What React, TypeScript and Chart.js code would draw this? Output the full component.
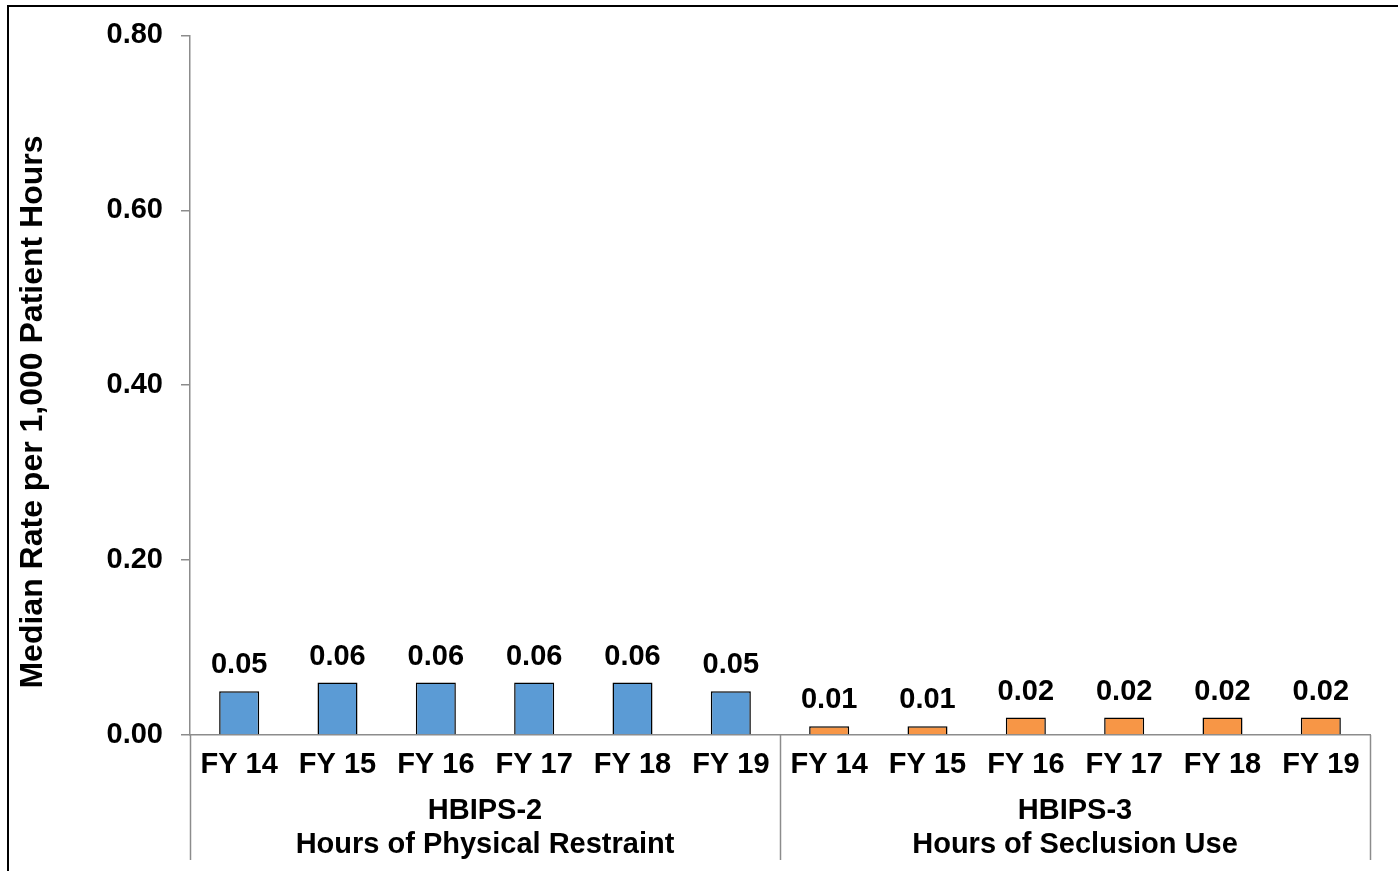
import React, { useEffect, useRef } from "react";
import { Chart, registerables } from "chart.js";

Chart.register(...registerables);

const categories = ["FY 14", "FY 15", "FY 16", "FY 17", "FY 18", "FY 19", "FY 14", "FY 15", "FY 16", "FY 17", "FY 18", "FY 19"];
const values = [0.05, 0.06, 0.06, 0.06, 0.06, 0.05, 0.01, 0.01, 0.02, 0.02, 0.02, 0.02];
const groupLabels = [
  ["HBIPS-2", "Hours of Physical Restraint"],
  ["HBIPS-3", "Hours of Seclusion Use"],
];
const groupSize = 6;
const yTitle = "Median Rate per 1,000 Patient Hours";

const BLUE = "#5B9BD5";
const ORANGE = "#F79646";
const FONT = "'Liberation Sans', Arial, sans-serif";
const AXIS_GRAY = "#8C8C8C";

const overlayPlugin = {
  id: "overlay",
  beforeDraw(chart: any) {
    const ctx = chart.ctx;
    ctx.save();
    ctx.fillStyle = "#ffffff";
    ctx.fillRect(0, 0, chart.width, chart.height);
    ctx.fillStyle = "#000000";
    ctx.fillRect(7, 5, chart.width - 7, 2);
    ctx.fillRect(7, 5, 2, chart.height - 5);
    ctx.restore();
  },
  afterDraw(chart: any) {
    const ctx = chart.ctx;
    const x = chart.scales.x;
    const area = chart.chartArea;
    const meta = chart.getDatasetMeta(0);
    ctx.save();
    // data labels
    ctx.font = `bold 29px ${FONT}`;
    ctx.fillStyle = "#000";
    ctx.textAlign = "center";
    ctx.textBaseline = "alphabetic";
    meta.data.forEach((bar: any, i: number) => {
      ctx.fillText(values[i].toFixed(2), bar.x, bar.y - 18);
    });
    // group separators
    const step = x.getPixelForValue(1) - x.getPixelForValue(0);
    ctx.strokeStyle = AXIS_GRAY;
    ctx.lineWidth = 1.5;
    for (let g = 0; g <= groupLabels.length; g++) {
      const idx = g * groupSize;
      const px = Math.round(x.getPixelForValue(idx) - step / 2) + 0.5;
      ctx.beginPath();
      ctx.moveTo(px, area.bottom);
      ctx.lineTo(px, 860);
      ctx.stroke();
    }
    // group labels
    ctx.fillStyle = "#000";
    groupLabels.forEach((lines, g) => {
      const cx = (x.getPixelForValue(g * groupSize) + x.getPixelForValue(g * groupSize + groupSize - 1)) / 2;
      ctx.fillText(lines[0], cx, 819);
      ctx.fillText(lines[1], cx, 853);
    });
    // y title
    ctx.translate(33, 412);
    ctx.rotate(-Math.PI / 2);
    ctx.font = `bold 32px ${FONT}`;
    ctx.textBaseline = "middle";
    ctx.fillText(yTitle, 0, 0);
    ctx.restore();
  },
};

export default function App() {
  const ref = useRef<HTMLCanvasElement | null>(null);
  useEffect(() => {
    if (!ref.current) return;
    const chart = new Chart(ref.current, {
      type: "bar",
      data: {
        labels: categories,
        datasets: [
          {
            data: values,
            backgroundColor: values.map((_, i) => (i < groupSize ? BLUE : ORANGE)),
            borderColor: "#000000",
            borderWidth: 1.5,
            categoryPercentage: 1,
            barPercentage: 0.407,
          },
        ],
      },
      options: {
        responsive: false,
        animation: false,
        layout: { padding: { left: 0, top: 33, right: 28, bottom: 0 } },
        plugins: {
          legend: { display: false },
          tooltip: { enabled: false },
        },
        scales: {
          x: {
            grid: { display: false },
            border: { display: true, color: AXIS_GRAY, width: 1.5 },
            ticks: {
              color: "#000",
              font: { family: FONT, size: 29, weight: "bold" },
              padding: 5,
              maxRotation: 0,
              autoSkip: false,
            },
            afterFit: (s: any) => {
              s.height = 136;
            },
          },
          y: {
            min: 0,
            max: 0.8,
            grid: { display: true, drawOnChartArea: false, drawTicks: true, tickLength: 9, color: AXIS_GRAY, lineWidth: 1.5 },
            border: { display: true, color: AXIS_GRAY, width: 1.5 },
            ticks: {
              stepSize: 0.2,
              color: "#000",
              font: { family: FONT, size: 29, weight: "bold" },
              padding: 18,
              callback: (v: any) => Number(v).toFixed(2),
            },
            afterFit: (s: any) => {
              s.width = 190;
            },
          },
        },
      },
      plugins: [overlayPlugin],
    });
    return () => chart.destroy();
  }, []);
  return (
    <div style={{ position: "absolute", left: 0, top: 0, width: 1398, height: 871 }}>
      <canvas ref={ref} width={1398} height={871} style={{ display: "block" }} />
    </div>
  );
}
